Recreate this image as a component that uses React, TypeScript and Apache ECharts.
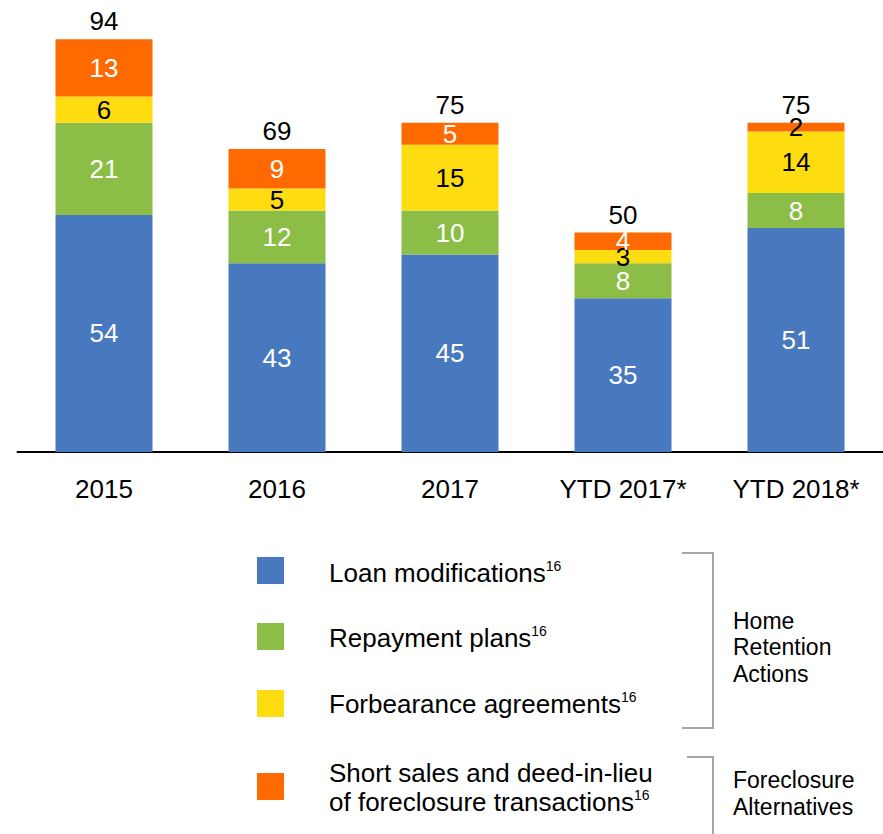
import React, { useEffect, useRef } from "react";
import * as echarts from "echarts";

const categories = ["2015", "2016", "2017", "YTD 2017*", "YTD 2018*"];
const loanModifications = [54, 43, 45, 35, 51];
const repaymentPlans = [21, 12, 10, 8, 8];
const forbearanceAgreements = [6, 5, 15, 3, 14];
const shortSales = [13, 9, 5, 4, 2];
const totals = [94, 69, 75, 50, 75];

const FONT = "'Liberation Sans', Arial, Helvetica, sans-serif";
const BLUE = "#4879BE";
const GREEN = "#8BBD47";
const YELLOW = "#FEDD10";
const ORANGE = "#FE6A00";

export default function App() {
  const ref = useRef<HTMLDivElement>(null);

  useEffect(() => {
    document.body.style.margin = "0";
    const chart = echarts.init(ref.current!, null, { renderer: "svg" });

    const segLabel = (color: string) => ({
      show: true,
      position: "inside",
      color,
      fontSize: 26,
      fontFamily: FONT,
    });

    const legendRow = (y: number, color: string, richText: string, textY: number) => [
      {
        type: "rect",
        shape: { x: 257, y, width: 27, height: 27 },
        style: { fill: color },
      },
      {
        type: "text",
        x: 329,
        y: textY,
        style: {
          text: richText,
          align: "left",
          verticalAlign: "middle",
          fill: "#000",
          rich: {
            a: { fontSize: 26, fontFamily: FONT, lineHeight: 29, fill: "#000" },
            s: { fontSize: 14, fontFamily: FONT, lineHeight: 11, verticalAlign: "top", fill: "#000" },
          },
        },
      },
    ];

    chart.setOption({
      animation: false,
      grid: { left: 17.5, top: 13, width: 865, height: 439 },
      xAxis: {
        type: "category",
        data: categories,
        axisLine: { lineStyle: { color: "#000", width: 2 } },
        axisTick: { show: false },
        axisLabel: { color: "#000", fontSize: 26, fontFamily: FONT, margin: 24 },
      },
      yAxis: { type: "value", min: 0, max: 100, show: false, splitLine: { show: false } },
      series: [
        {
          name: "Loan modifications",
          type: "bar",
          stack: "t",
          barWidth: 97,
          data: loanModifications,
          itemStyle: { color: BLUE },
          label: segLabel("#fff"),
        },
        {
          name: "Repayment plans",
          type: "bar",
          stack: "t",
          barWidth: 97,
          data: repaymentPlans,
          itemStyle: { color: GREEN },
          label: segLabel("#fff"),
        },
        {
          name: "Forbearance agreements",
          type: "bar",
          stack: "t",
          barWidth: 97,
          data: forbearanceAgreements,
          itemStyle: { color: YELLOW },
          label: segLabel("#000"),
        },
        {
          name: "Short sales and deed-in-lieu of foreclosure transactions",
          type: "bar",
          stack: "t",
          barWidth: 97,
          data: shortSales.map((v, i) =>
            i === 4 ? { value: v, label: { color: "#000" } } : v
          ),
          itemStyle: { color: ORANGE },
          label: segLabel("#fff"),
        },
        {
          name: "Total",
          type: "bar",
          stack: "t",
          barWidth: 97,
          data: totals.map(() => 0),
          itemStyle: { color: "transparent" },
          label: {
            show: true,
            position: "top",
            distance: 5,
            color: "#000",
            fontSize: 26,
            fontFamily: FONT,
            formatter: (p: any) => String(totals[p.dataIndex]),
          },
        },
      ],
      graphic: [
        ...legendRow(557, BLUE, "{a|Loan modifications}{s|16}", 573),
        ...legendRow(623, GREEN, "{a|Repayment plans}{s|16}", 638),
        ...legendRow(690, YELLOW, "{a|Forbearance agreements}{s|16}", 704),
        ...legendRow(
          773,
          ORANGE,
          "{a|Short sales and deed-in-lieu}\n{a|of foreclosure transactions}{s|16}",
          787.5
        ),
        {
          type: "polyline",
          shape: { points: [[682, 553], [713, 553], [713, 728], [682, 728]] },
          style: { stroke: "#A6A6A6", lineWidth: 2, fill: "none" },
        },
        {
          type: "polyline",
          shape: { points: [[687, 757], [713, 757], [713, 834]] },
          style: { stroke: "#A6A6A6", lineWidth: 2, fill: "none" },
        },
        {
          type: "text",
          x: 733,
          y: 647,
          style: {
            text: "Home\nRetention\nActions",
            align: "left",
            verticalAlign: "middle",
            fill: "#000",
            font: `23px ${FONT}`,
            lineHeight: 26.5,
          },
        },
        {
          type: "text",
          x: 733,
          y: 793.5,
          style: {
            text: "Foreclosure\nAlternatives",
            align: "left",
            verticalAlign: "middle",
            fill: "#000",
            font: `23px ${FONT}`,
            lineHeight: 27,
          },
        },
      ],
    });

    return () => chart.dispose();
  }, []);

  return (
    <div
      ref={ref}
      style={{ position: "absolute", left: 0, top: 0, width: 883, height: 834 }}
    />
  );
}
